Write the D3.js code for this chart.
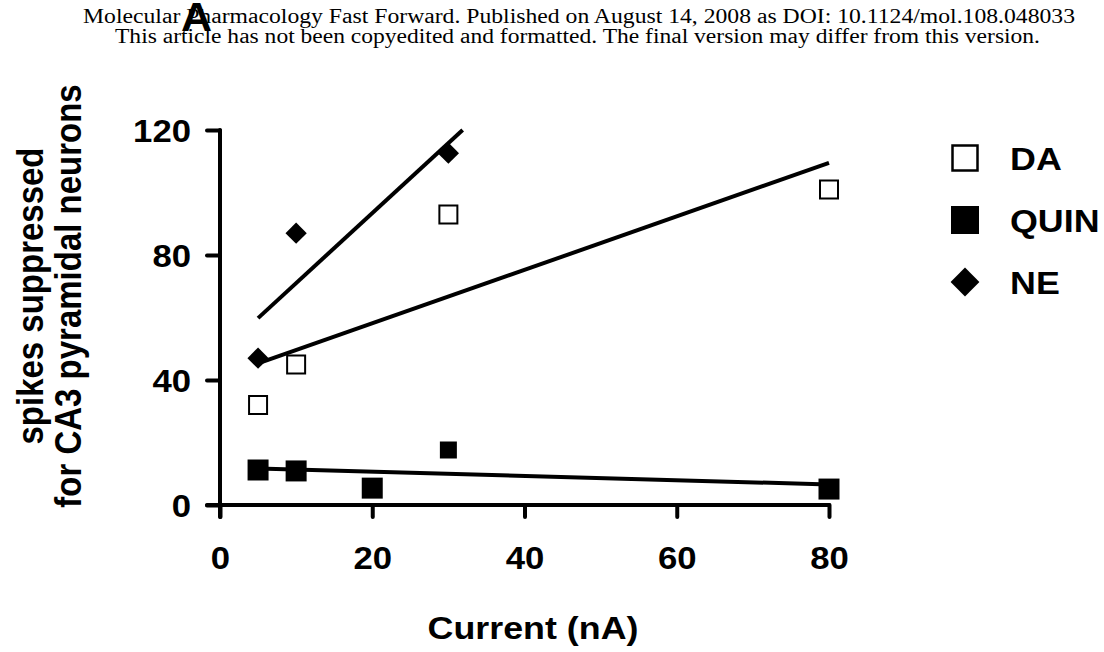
<!DOCTYPE html>
<html>
<head>
<meta charset="utf-8">
<script src="https://cdn.jsdelivr.net/npm/d3@7"></script>
<style>
  body { margin: 0; background: #fff; }
  svg { display: block; }
</style>
</head>
<body>
<svg></svg>
<script>
// values
const currents = [5, 10, 20, 30, 80];
const daX = [5, 10, 30, 80];
const daY = [32, 45, 93, 101];
const quinX = [5, 10, 20, 30, 80];
const quinY = [11.2, 10.9, 5.4, 17.6, 5.1];
const neX = [5, 10, 30];
const neY = [47, 87, 112.6];
const xTicks = [0, 20, 40, 60, 80];
const yTicks = [0, 40, 80, 120];
const seriesNames = ['DA', 'QUIN', 'NE'];

const s = {
  width: 1104,
  height: 652,
};

const sans = '"Liberation Sans", Arial, sans-serif';
const serif = '"Liberation Serif", "Times New Roman", serif';
const stretch = 1.12; // figure text is a bit wide

const svg = d3.select('svg')
    .attr('width', s.width)
    .attr('height', s.height);

const x = d3.scaleLinear().domain([0, 80]).range([220, 829]);
const y = d3.scaleLinear().domain([0, 120]).range([505, 130]);

// header
svg.append('text')
    .attr('x', 83).attr('y', 23)
    .attr('textLength', 992).attr('lengthAdjust', 'spacingAndGlyphs')
    .style('font-family', serif).style('font-size', '20px')
    .text('Molecular Pharmacology Fast Forward. Published on August 14, 2008 as DOI: 10.1124/mol.108.048033');
svg.append('text')
    .attr('x', 115).attr('y', 43)
    .attr('textLength', 925).attr('lengthAdjust', 'spacingAndGlyphs')
    .style('font-family', serif).style('font-size', '20px')
    .text('This article has not been copyedited and formatted. The final version may differ from this version.');
svg.append('text')
    .attr('transform', 'translate(181,31) scale(1.05,1)')
    .style('font-family', sans).style('font-size', '41px').style('font-weight', 'bold')
    .text('A');

// axes
const xAxis = d3.axisBottom(x).tickValues(xTicks).tickSize(12).tickSizeOuter(0);
const yAxis = d3.axisLeft(y).tickValues(yTicks).tickSize(13).tickSizeOuter(0);

const gx = svg.append('g').attr('transform', `translate(0,${y(0)})`).call(xAxis);
const gy = svg.append('g').attr('transform', `translate(${x(0)},0)`).call(yAxis);

gx.select('.domain').attr('d', `M${x(0) - 13},0H${x(80)}`);
gy.select('.domain').attr('d', `M0,${y(120)}V${y(0) + 12}`);

[gx, gy].forEach(g => {
  g.selectAll('.domain, .tick line')
      .attr('stroke', '#000')
      .attr('stroke-width', 4)
      .attr('stroke-linecap', 'round');
  g.selectAll('.tick text')
      .style('font-family', sans)
      .style('font-size', '31px')
      .style('font-weight', 'bold')
      .attr('fill', '#000');
});
gx.selectAll('.tick text')
    .attr('dy', null)
    .attr('y', 64)
    .attr('transform', `scale(${stretch},1)`);
gy.selectAll('.tick text')
    .attr('transform', `translate(-29,0) scale(${stretch},1)`)
    .attr('x', 0)
    .attr('dy', '0.36em');

// axis titles
svg.append('text')
    .attr('transform', `translate(533,639) scale(${stretch},1)`)
    .attr('text-anchor', 'middle')
    .style('font-family', sans).style('font-size', '32px').style('font-weight', 'bold')
    .text('Current (nA)');

const yt = svg.append('text')
    .attr('transform', `translate(0,296) rotate(-90) scale(1,${stretch})`)
    .attr('text-anchor', 'middle')
    .style('font-family', sans).style('font-size', '33px').style('font-weight', 'bold');
yt.append('tspan').attr('x', 0).attr('y', 38).text('spikes suppressed');
yt.append('tspan').attr('x', 0).attr('y', 72).text('for CA3 pyramidal neurons');

// regression lines
function fit(xs, ys) {
  const mx = d3.mean(xs), my = d3.mean(ys);
  const sxy = d3.sum(xs, (v, i) => (v - mx) * (ys[i] - my));
  const sxx = d3.sum(xs, v => (v - mx) * (v - mx));
  const m = sxy / sxx;
  return { m: m, b: my - m * mx };
}

const lineX0 = d3.min(currents), lineX1 = d3.max(currents);
[[daX, daY], [quinX, quinY], [neX, neY]].forEach(([xs, ys]) => {
  const f = fit(xs, ys);
  let x1 = lineX1;
  if (f.m * x1 + f.b > y.domain()[1]) x1 = (y.domain()[1] - f.b) / f.m;
  svg.append('line')
      .attr('x1', x(lineX0)).attr('y1', y(f.m * lineX0 + f.b))
      .attr('x2', x(x1)).attr('y2', y(f.m * x1 + f.b))
      .attr('stroke', '#000')
      .attr('stroke-width', 4);
});

// markers
const sq = d3.symbol().type(d3.symbolSquare);
const dia = d3.symbol().type(d3.symbolDiamond2);

svg.append('g').selectAll('path')
    .data(daX.map((v, i) => [v, daY[i]]))
    .join('path')
      .attr('transform', d => `translate(${x(d[0])},${y(d[1])})`)
      .attr('d', sq.size(18 * 18)())
      .attr('fill', '#fff')
      .attr('stroke', '#000')
      .attr('stroke-width', 2);

svg.append('g').selectAll('path')
    .data(quinX.map((v, i) => [v, quinY[i]]))
    .join('path')
      .attr('transform', d => `translate(${x(d[0])},${y(d[1])})`)
      .attr('d', (d, i) => sq.size(i === 3 ? 17 * 17 : 21 * 21)())
      .attr('fill', '#000');

svg.append('g').selectAll('path')
    .data(neX.map((v, i) => [v, neY[i]]))
    .join('path')
      .attr('transform', d => `translate(${x(d[0])},${y(d[1])})`)
      .attr('d', dia.size(17 * 17)())
      .attr('fill', '#000');

// legend
const legend = svg.append('g');
const legendY = [158, 220, 282];
seriesNames.forEach((name, i) => {
  const gi = legend.append('g').attr('transform', `translate(965,${legendY[i]})`);
  if (i === 0) {
    gi.append('path').attr('d', sq.size(25 * 25)())
        .attr('fill', '#fff').attr('stroke', '#000').attr('stroke-width', 2.5);
  } else if (i === 1) {
    gi.append('path').attr('d', sq.size(28 * 28)()).attr('fill', '#000');
  } else {
    gi.append('path').attr('d', dia.size(23 * 23)()).attr('fill', '#000');
  }
  gi.append('text')
      .attr('transform', `translate(45,12) scale(${stretch},1)`)
      .style('font-family', sans).style('font-size', '32px').style('font-weight', 'bold')
      .text(name);
});
</script>
</body>
</html>
